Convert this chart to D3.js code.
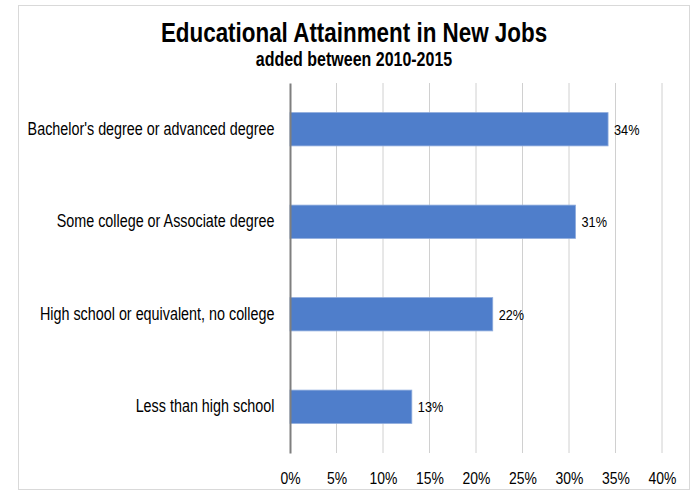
<!DOCTYPE html>
<html>
<head>
<meta charset="utf-8">
<script src="https://cdn.jsdelivr.net/npm/d3@7"></script>
<style>
  body { margin: 0; background: #fff; }
  text { font-family: "Liberation Sans Narrow", "Arial Narrow", "Liberation Sans", Arial, sans-serif; fill: #000; }
</style>
</head>
<body>
<div id="chart"></div>
<script>
// data
var categories = ["Bachelor's degree or advanced degree",
                  "Some college or Associate degree",
                  "High school or equivalent, no college",
                  "Less than high school"];
var values = [34.2, 30.7, 21.8, 13.1];
var valueLabels = ["34%", "31%", "22%", "13%"];
var ticks = [0, 5, 10, 15, 20, 25, 30, 35, 40];

var width = 692, height = 491;
var narrow = "scale(0.82,1)"; // no narrow font installed, squeeze Liberation Sans instead

var svg = d3.select("#chart").append("svg")
    .attr("width", width)
    .attr("height", height);

// outer frame
svg.append("rect")
    .attr("x", 18.5).attr("y", 5.5)
    .attr("width", 671).attr("height", 484)
    .attr("fill", "#fff")
    .attr("stroke", "#d9d9d9")
    .attr("stroke-width", 1);

var x = d3.scaleLinear().domain([0, 40]).range([290, 662]);
var y = d3.scaleBand().domain(categories).range([83, 453]).paddingInner(0.64).paddingOuter(0.32);

// titles
svg.append("g")
    .attr("transform", "translate(354,42)")
  .append("text")
    .attr("transform", "scale(0.83,1)")
    .attr("text-anchor", "middle")
    .attr("font-size", "27px")
    .attr("font-weight", "bold")
    .text("Educational Attainment in New Jobs");

svg.append("g")
    .attr("transform", "translate(354,66)")
  .append("text")
    .attr("transform", narrow)
    .attr("text-anchor", "middle")
    .attr("font-size", "19.5px")
    .attr("font-weight", "bold")
    .text("added between 2010-2015");

// gridlines
svg.append("g")
    .selectAll("line")
    .data(ticks.slice(1))
    .enter().append("line")
    .attr("x1", function(d) { return x(d); })
    .attr("x2", function(d) { return x(d); })
    .attr("y1", 83).attr("y2", 453)
    .attr("stroke", "#d0d0d0")
    .attr("stroke-width", 1);

// bars
svg.append("g")
    .selectAll("rect")
    .data(values)
    .enter().append("rect")
    .attr("x", x(0))
    .attr("y", function(d, i) { return y(categories[i]); })
    .attr("width", function(d) { return x(d) - x(0); })
    .attr("height", y.bandwidth())
    .attr("fill", "#4f7ecb")
    .attr("stroke", "#8eabdc")
    .attr("stroke-width", 0.8);

// value labels
svg.append("g")
    .selectAll("g")
    .data(values)
    .enter().append("g")
    .attr("transform", function(d, i) {
      return "translate(" + (x(d) + 6) + "," + (y(categories[i]) + y.bandwidth() / 2) + ")";
    })
  .append("text")
    .attr("transform", narrow)
    .attr("dy", "0.35em")
    .attr("font-size", "15.5px")
    .attr("fill", "#262626")
    .text(function(d, i) { return valueLabels[i]; });

// category axis
svg.append("g")
    .attr("transform", "translate(" + x(0) + ",0)")
    .call(d3.axisLeft(y).tickSize(0).tickPadding(19))
    .call(function(g) {
      g.select(".domain").attr("stroke", "#7f7f7f").attr("stroke-width", 2);
      g.selectAll("text").attr("font-size", "17.5px").attr("fill", "#000")
        .attr("transform", narrow)
        .style("font-family", "\"Liberation Sans Narrow\", \"Arial Narrow\", \"Liberation Sans\", Arial, sans-serif");
    });

// value axis (labels only)
svg.append("g")
    .attr("transform", "translate(0,465)")
    .call(d3.axisBottom(x).tickValues(ticks).tickSize(0).tickPadding(7)
      .tickFormat(function(d) { return d + "%"; }))
    .call(function(g) {
      g.select(".domain").remove();
      g.selectAll("text").attr("font-size", "17px").attr("fill", "#000")
        .attr("transform", narrow)
        .style("font-family", "\"Liberation Sans Narrow\", \"Arial Narrow\", \"Liberation Sans\", Arial, sans-serif");
    });
</script>
</body>
</html>
